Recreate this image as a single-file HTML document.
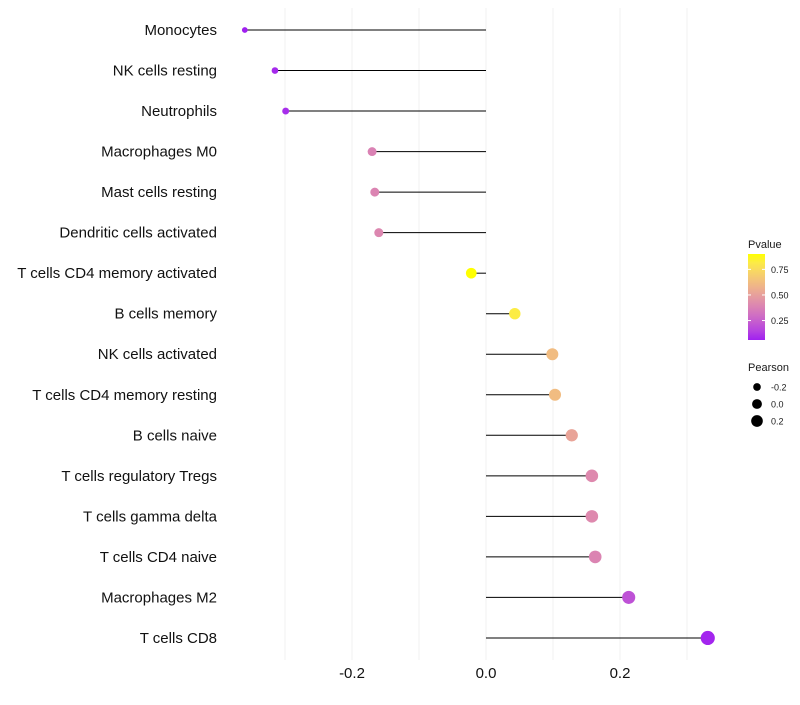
<!DOCTYPE html>
<html><head><meta charset="utf-8"><style>
body{margin:0;background:#fff;font-family:"Liberation Sans",sans-serif}
</style></head><body>
<svg id="chart" width="800" height="700" xmlns="http://www.w3.org/2000/svg" font-family="Liberation Sans, sans-serif"></svg>
<script>
const categories=["Monocytes","NK cells resting","Neutrophils","Macrophages M0","Mast cells resting","Dendritic cells activated","T cells CD4 memory activated","B cells memory","NK cells activated","T cells CD4 memory resting","B cells naive","T cells regulatory  Tregs","T cells gamma delta","T cells CD4 naive","Macrophages M2","T cells CD8"];
const pearson=[-0.36,-0.315,-0.299,-0.17,-0.166,-0.16,-0.022,0.043,0.099,0.103,0.128,0.158,0.158,0.163,0.213,0.331];
const pvalues=[0.06,0.08,0.09,0.38,0.39,0.40,0.90,0.82,0.62,0.62,0.52,0.41,0.41,0.39,0.20,0.07];
const xTicks=[-0.2,0.0,0.2];
const xTickLabels=["-0.2","0.0","0.2"];
const gridVals=[-0.3,-0.2,-0.1,0,0.1,0.2,0.3];
const legendP=[0.25,0.50,0.75];
const legendPearson=[-0.2,0.0,0.2];

const svg=document.getElementById('chart');
const NS='http://www.w3.org/2000/svg';
function mk(t,a,p){const e=document.createElementNS(NS,t);for(const k in a)e.setAttribute(k,a[k]);(p||svg).appendChild(e);return e;}
const x=v=>486+v*670;
const y=i=>30+i*40.53;
const pMin=0.06,pMax=0.9;
function lab(r,g,b){const f=c=>{c/=255;return c>0.04045?Math.pow((c+0.055)/1.055,2.4):c/12.92};r=f(r);g=f(g);b=f(b);
let X=(r*0.4124+g*0.3576+b*0.1805)/0.95047,Y=r*0.2126+g*0.7152+b*0.0722,Z=(r*0.0193+g*0.1192+b*0.9505)/1.08883;
const h=t=>t>0.008856?Math.cbrt(t):7.787*t+16/116;X=h(X);Y=h(Y);Z=h(Z);return[116*Y-16,500*(X-Y),200*(Y-Z)];}
function rgb(L,a,b){let Y=(L+16)/116,X=a/500+Y,Z=Y-b/200;const h=t=>t*t*t>0.008856?t*t*t:(t-16/116)/7.787;
X=h(X)*0.95047;Y=h(Y);Z=h(Z)*1.08883;let r=X*3.2406+Y*-1.5372+Z*-0.4986,g=X*-0.9689+Y*1.8758+Z*0.0415,bb=X*0.0557+Y*-0.204+Z*1.057;
const f=c=>{c=c>0.0031308?1.055*Math.pow(c,1/2.4)-0.055:12.92*c;return Math.round(Math.max(0,Math.min(1,c))*255)};return`rgb(${f(r)},${f(g)},${f(bb)})`;}
const lo=lab(160,32,240),hi=lab(255,255,0);
function col(p){const t=Math.max(0,Math.min(1,(p-pMin)/(pMax-pMin)));return rgb(lo[0]+(hi[0]-lo[0])*t,lo[1]+(hi[1]-lo[1])*t,lo[2]+(hi[2]-lo[2])*t);}
const rad=v=>Math.sqrt(Math.max(3,30+60*v));

gridVals.forEach(v=>{const g=mk('line',{x1:x(v),x2:x(v),y1:8,y2:660,stroke:'#f0f0f0','stroke-width':1});

});
categories.forEach((c,i)=>{
 const t=mk('text',{x:217,y:y(i)+5,'text-anchor':'end','font-size':15,fill:'#111'});t.textContent=c;
 
 
 const l=mk('line',{x1:x(0),x2:x(pearson[i]),y1:y(i),y2:y(i),stroke:'#000','stroke-width':1});
 
 
 const d=mk('circle',{cx:x(pearson[i]),cy:y(i),r:rad(pearson[i]),fill:col(pvalues[i])});
 
 
});
xTicks.forEach((v,i)=>{const t=mk('text',{x:x(v),y:678,'text-anchor':'middle','font-size':15,fill:'#111'});t.textContent=xTickLabels[i];
 
 });
const lt=mk('text',{x:748,y:248,'font-size':11,fill:'#1a1a1a'});lt.textContent='Pvalue';


const defs=mk('defs',{});const gr=mk('linearGradient',{id:'pg',x1:0,y1:1,x2:0,y2:0},defs);
for(let k=0;k<=10;k++){mk('stop',{offset:k/10,'stop-color':col(pMin+(pMax-pMin)*k/10)},gr);}
const bar=mk('rect',{x:748,y:254,width:17,height:86,fill:'url(#pg)'});


const py=p=>340-(p-pMin)/(pMax-pMin)*86;
legendP.forEach(p=>{mk('line',{x1:748,x2:751,y1:py(p),y2:py(p),stroke:'#fff'});mk('line',{x1:762,x2:765,y1:py(p),y2:py(p),stroke:'#fff'});
 const t=mk('text',{x:771,y:py(p)+3.5,'font-size':9,fill:'#1a1a1a'});t.textContent=p.toFixed(2);
 
 });
const st=mk('text',{x:748,y:371,'font-size':11,fill:'#1a1a1a'});st.textContent='Pearson';


legendPearson.forEach((v,i)=>{const cy=387+i*17;
 const c=mk('circle',{cx:757,cy:cy,r:rad(v)*0.9,fill:'#000'});
 
 
 const t=mk('text',{x:771,y:cy+3.5,'font-size':9,fill:'#1a1a1a'});t.textContent=v.toFixed(1);
 
 });
</script>
</body></html>
